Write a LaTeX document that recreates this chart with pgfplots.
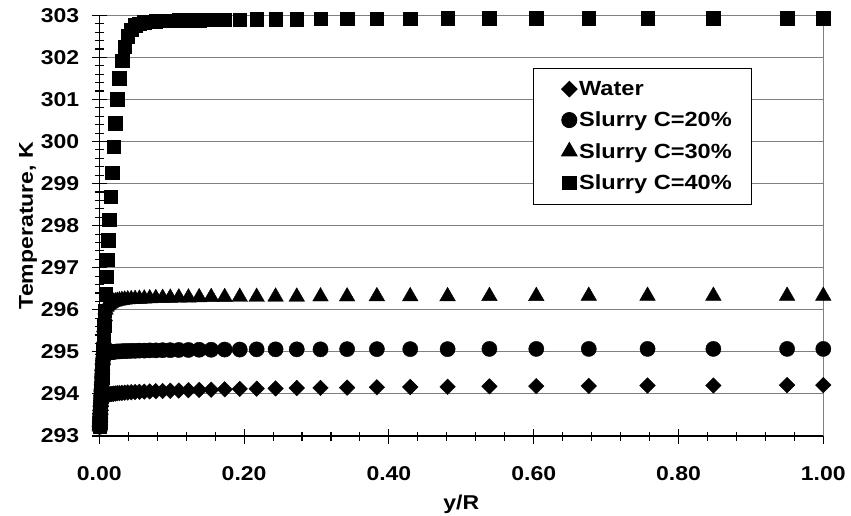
\documentclass[border=0pt]{standalone}
\usepackage{fontspec}
\setmainfont{Liberation Sans}[FakeStretch=1.15]
\usepackage{pgfplots}
\pgfplotsset{compat=1.18}
\usepackage{pgfplotstable}

\pgfplotstableread{
x w c20 c30 c40
0.00056 293.22 293.22 293.22 293.22
0.00069 293.26 293.26 293.26 293.26
0.00083 293.32 293.32 293.32 293.32
0.00099 293.38 293.38 293.38 293.38
0.00117 293.45 293.45 293.45 293.45
0.00137 293.53 293.53 293.53 293.53
0.00159 293.61 293.61 293.61 293.61
0.00184 293.71 293.71 293.71 293.71
0.00212 293.78 293.81 293.81 293.81
0.00244 293.84 293.94 293.94 293.94
0.00279 293.88 294.07 294.07 294.07
0.00318 293.90 294.22 294.22 294.22
0.00363 293.92 294.39 294.39 294.39
0.00412 293.93 294.56 294.58 294.58
0.00468 293.94 294.72 294.80 294.80
0.00530 293.95 294.83 295.04 295.04
0.00599 293.955 294.89 295.30 295.30
0.00677 293.96 294.92 295.58 295.62
0.00765 293.965 294.94 295.84 295.98
0.00862 293.97 294.955 296.00 296.37
0.00972 293.975 294.965 296.07 296.79
0.01094 293.98 294.975 296.10 297.19
0.01232 293.985 294.98 296.12 297.66
0.01385 293.99 294.985 296.14 298.14
0.01558 293.995 294.99 296.16 298.69
0.01750 294.00 294.995 296.18 299.26
0.01966 294.005 295.00 296.19 299.88
0.02208 294.01 295.005 296.20 300.43
0.02479 294.015 295.01 296.21 301.00
0.02783 294.02 295.01 296.22 301.50
0.03123 294.025 295.015 296.23 301.92
0.03503 294.03 295.02 296.24 302.25
0.03930 294.035 295.02 296.245 302.50
0.04407 294.04 295.025 296.25 302.66
0.04942 294.045 295.025 296.255 302.76
0.05541 294.05 295.03 296.26 302.80
0.06212 294.055 295.03 296.265 302.83
0.06964 294.06 295.035 296.27 302.85
0.07805 294.065 295.035 296.275 302.86
0.08748 294.07 295.04 296.28 302.87
0.09804 294.075 295.04 296.285 302.875
0.10986 294.08 295.045 296.29 302.88
0.12310 294.09 295.045 296.29 302.885
0.13794 294.095 295.05 296.295 302.89
0.15455 294.10 295.05 296.30 302.895
0.17315 294.11 295.055 296.30 302.90
0.19399 294.12 295.055 296.305 302.90
0.21733 294.125 295.06 296.305 302.905
0.24347 294.13 295.06 296.31 302.91
0.27274 294.14 295.06 296.31 302.91
0.30553 294.145 295.06 296.315 302.915
0.34226 294.15 295.065 296.315 302.92
0.38339 294.16 295.065 296.32 302.92
0.42946 294.165 295.065 296.32 302.92
0.48105 294.17 295.065 296.32 302.925
0.53884 294.18 295.07 296.325 302.925
0.60356 294.185 295.07 296.325 302.93
0.67605 294.19 295.07 296.33 302.93
0.75723 294.20 295.07 296.33 302.93
0.84816 294.20 295.07 296.33 302.93
0.95000 294.21 295.07 296.33 302.93
1.00000 294.21 295.07 296.33 302.93
}\datatable

\begin{document}
\begin{tikzpicture}
\path[use as bounding box] (0,0) rectangle (851pt,515pt);
\begin{axis}[
  at={(99.3pt,79pt)}, anchor=south west,
  scale only axis, width=724pt, height=420.7pt,
  xmin=0, xmax=1, ymin=293, ymax=303,
  axis x line*=bottom, axis y line*=left,
  axis line style={black, line width=1.2pt},
  xtick={0,0.2,0.4,0.6,0.8,1.0}, ytick={293,294,...,303},
  minor x tick num=4, minor y tick num=4,
  tick align=center, major tick length=15pt, minor tick length=9pt,
  tick style={black, line width=1.1pt},
  ymajorgrids, major grid style={draw=gray, line width=1.1pt},
  extra x ticks={1}, extra x tick labels={},
  extra x tick style={xmajorgrids=true, major tick length=0pt},
  scaled ticks=false,
  /pgf/number format/assume math mode=true,
  ticklabel style={font=\fontsize{20}{24}\selectfont\bfseries},
  x tick label style={yshift=-19pt, /pgf/number format/fixed, /pgf/number format/fixed zerofill, /pgf/number format/precision=2},
  y tick label style={xshift=-9pt, /pgf/number format/fixed, /pgf/number format/precision=0},
  xlabel={y/R}, ylabel={Temperature, K},
  every axis x label/.style={at={(axis description cs:0.5,-0.163)}, anchor=center, font=\fontsize{20}{24}\selectfont\bfseries},
  every axis y label/.style={at={(axis description cs:-0.0985,0.5)}, rotate=90, anchor=center, font=\fontsize{20}{24}\selectfont\bfseries},
  clip=false,
  legend style={at={(0.599,0.875)}, anchor=north west, draw=black, line width=0.8pt,
    font=\fontsize{20.5}{24}\selectfont\bfseries, row sep=11pt, inner xsep=18pt, inner ysep=11pt},
  legend cell align=left,
  legend image code/.code={\path (-9pt,0pt); \draw[mark repeat=2,mark phase=2,#1] plot coordinates {(0cm,0cm) (0.3cm,0cm) (0.6cm,0cm)};},
]
\addplot[only marks, mark=square*, mark size=5.5pt, mark options={rotate=45, black, fill=black}] table[x=x, y=w] {\datatable};
\addlegendentry{Water}
\addplot[only marks, mark=*, mark size=7.6pt, mark options={black, fill=black}] table[x=x, y=c20] {\datatable};
\addlegendentry{Slurry C=20\%}
\addplot[only marks, mark=triangle*, mark size=9pt, mark options={black, fill=black}] table[x=x, y=c30] {\datatable};
\addlegendentry{Slurry C=30\%}
\addplot[only marks, mark=square*, mark size=6.8pt, mark options={black, fill=black}] table[x=x, y=c40] {\datatable};
\addlegendentry{Slurry C=40\%}
\end{axis}
\end{tikzpicture}
\end{document}
